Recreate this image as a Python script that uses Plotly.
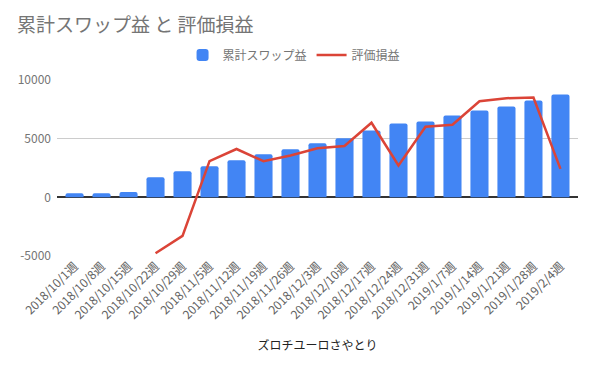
import plotly.graph_objects as go

weeks = ["2018/10/1週", "2018/10/8週", "2018/10/15週", "2018/10/22週", "2018/10/29週",
         "2018/11/5週", "2018/11/12週", "2018/11/19週", "2018/11/26週", "2018/12/3週",
         "2018/12/10週", "2018/12/17週", "2018/12/24週", "2018/12/31週", "2019/1/7週",
         "2019/1/14週", "2019/1/21週", "2019/1/28週", "2019/2/4週"]
swap = [340, 340, 450, 1720, 2230, 2650, 3160, 3670, 4100, 4600,
        5030, 5700, 6300, 6470, 6980, 7400, 7740, 8250, 8760]
valuation = [None, None, None, -4770, -3280, 3080, 4120, 3080, 3560, 4180,
             4380, 6360, 2710, 6020, 6190, 8190, 8450, 8500, 2430]
y_ticks = [-5000, 0, 5000, 10000]

font = "Noto Sans CJK JP, Roboto, sans-serif"
W, H = 584, 358

fig = go.Figure()
fig.add_trace(go.Bar(x=weeks, y=swap, name="累計スワップ益", marker_color="#4285F4",
                     marker_line_width=0))
fig.add_trace(go.Scatter(x=weeks, y=valuation, name="評価損益", mode="lines",
                         line=dict(color="#DB4437", width=2.5)))

fig.update_layout(
    width=W, height=H,
    margin=dict(l=49, r=14, t=72, b=110, autoexpand=False),
    paper_bgcolor="white", plot_bgcolor="white",
    font=dict(family=font, color="#757575", size=12),
    title=dict(text="累計スワップ益 と 評価損益", x=9 / W, xanchor="left", xref="container",
               y=1 - 17 / H, yanchor="middle", yref="container", pad=dict(l=0, t=0),
               font=dict(size=19, color="#757575", family=font)),
    legend=dict(orientation="h", x=0.455, xanchor="center", y=1 - 47 / H, yanchor="middle",
                yref="container", font=dict(size=12, color="#757575"), itemwidth=30),
    bargap=0.33,
    barcornerradius=2,
    showlegend=True,
)
fig.update_xaxes(tickangle=-45, tickfont=dict(size=12, color="#616161"),
                 range=[-0.65, len(weeks) - 0.35],
                 title=dict(text="ズロチユーロさやとり", font=dict(size=12, color="#222222"), standoff=20),
                 showgrid=False, ticks="", showline=False, automargin=False)
fig.update_yaxes(range=[-5000, 10000], tickvals=y_ticks, ticktext=[str(v) for v in y_ticks],
                 gridcolor="#cccccc", zeroline=True, zerolinecolor="#333333", zerolinewidth=1.5,
                 tickfont=dict(size=12, color="#757575"), ticks="", showline=False, automargin=False,
                 ticklabelstandoff=5)

fig.write_html("out.html")
